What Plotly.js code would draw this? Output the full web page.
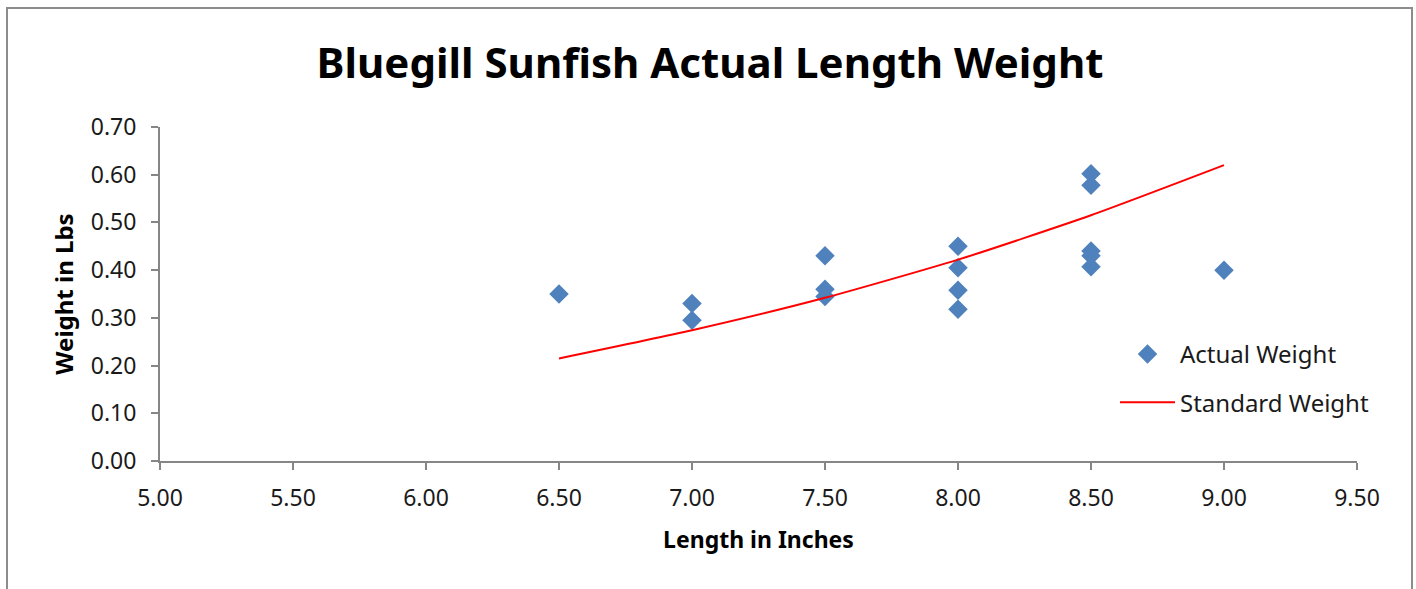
<!DOCTYPE html>
<html>
<head>
<meta charset="utf-8">
<script src="https://cdn.plot.ly/plotly-3.0.1.min.js"></script>
<style>
  html, body { margin: 0; padding: 0; background: #fff; }
  #wrap { position: relative; width: 1416px; height: 589px; overflow: hidden; }
  #frame { position: absolute; left: 6px; top: 7px; width: 1403px; height: 600px;
           border-left: 2px solid #8c8c8c; border-top: 2px solid #8c8c8c; border-right: 2px solid #8c8c8c; pointer-events: none; }
  #chart { position: absolute; left: 0; top: 0; width: 1416px; height: 589px; }
</style>
</head>
<body>
<div id="wrap">
  <div id="chart"></div>
  <div id="frame"></div>
</div>
<script>
// Actual weight observations
const actualLength = [6.5, 7.0, 7.0, 7.5, 7.5, 7.5, 8.0, 8.0, 8.0, 8.0, 8.5, 8.5, 8.5, 8.5, 8.5, 9.0];
const actualWeight = [0.35, 0.33, 0.295, 0.43, 0.36, 0.345, 0.45, 0.405, 0.358, 0.318, 0.602, 0.578, 0.44, 0.43, 0.407, 0.40];

// Standard weight curve
const standardLength = [6.5, 7.0, 7.5, 8.0, 8.5, 9.0];
const standardWeight = [0.215, 0.274, 0.342, 0.422, 0.515, 0.62];

const xTicks = [5.0, 5.5, 6.0, 6.5, 7.0, 7.5, 8.0, 8.5, 9.0, 9.5];
const yTicks = [0.0, 0.1, 0.2, 0.3, 0.4, 0.5, 0.6, 0.7];

const FONT = 'Noto Sans, Open Sans, sans-serif';
const AXIS_GREY = '#868686';
const TEXT = '#1a1a1a';

const traces = [
  {
    x: actualLength, y: actualWeight,
    type: 'scatter', mode: 'markers', name: 'Actual Weight',
    legendgroup: 'a',
    marker: { symbol: 'diamond', size: 15, color: '#4f81bd', line: { width: 0 } }
  },
  {
    x: standardLength, y: standardWeight,
    type: 'scatter', mode: 'lines', name: 'Standard Weight',
    legendgroup: 'b',
    line: { color: '#ff0000', width: 2, shape: 'spline', smoothing: 0.6 }
  }
];

const layout = {
  width: 1416, height: 589,
  margin: { l: 160, r: 59, t: 127, b: 128 },
  paper_bgcolor: '#ffffff', plot_bgcolor: '#ffffff',
  font: { family: FONT, color: TEXT },
  title: {
    text: '<b>Bluegill Sunfish Actual Length Weight</b>',
    font: { family: FONT, size: 42, color: '#000000' },
    x: 710 / 1416, xref: 'container', xanchor: 'center',
    y: 1 - 63 / 589, yref: 'container', yanchor: 'middle'
  },
  xaxis: {
    range: [5.0, 9.5],
    tickvals: xTicks,
    ticktext: xTicks.map(v => v.toFixed(2)),
    showgrid: false, zeroline: false,
    showline: true, linecolor: AXIS_GREY, linewidth: 2,
    ticks: 'outside', ticklen: 7, tickwidth: 2, tickcolor: AXIS_GREY,
    ticklabelstandoff: 8,
    tickfont: { family: FONT, size: 23, color: TEXT },
    title: { text: '<b>Length in Inches</b>', font: { family: FONT, size: 23, color: '#000000' }, standoff: 20 }
  },
  yaxis: {
    range: [0, 0.7],
    tickvals: yTicks,
    ticktext: yTicks.map(v => v.toFixed(2)),
    showgrid: false, zeroline: false,
    showline: true, linecolor: AXIS_GREY, linewidth: 2,
    ticks: 'outside', ticklen: 7, tickwidth: 2, tickcolor: AXIS_GREY,
    ticklabelstandoff: 10,
    tickfont: { family: FONT, size: 23, color: TEXT },
    title: { text: '<b>Weight in Lbs</b>', font: { family: FONT, size: 24, color: '#000000' }, standoff: 10 }
  },
  showlegend: true,
  legend: {
    x: (1115 - 160) / 1197, xanchor: 'left',
    y: (461 - 332) / 334, yanchor: 'top',
    bgcolor: 'rgba(0,0,0,0)',
    font: { family: FONT, size: 24, color: TEXT },
    tracegroupgap: 14,
    itemwidth: 55
  }
};

Plotly.newPlot('chart', traces, layout, { displayModeBar: false, staticPlot: true });
</script>
</body>
</html>
